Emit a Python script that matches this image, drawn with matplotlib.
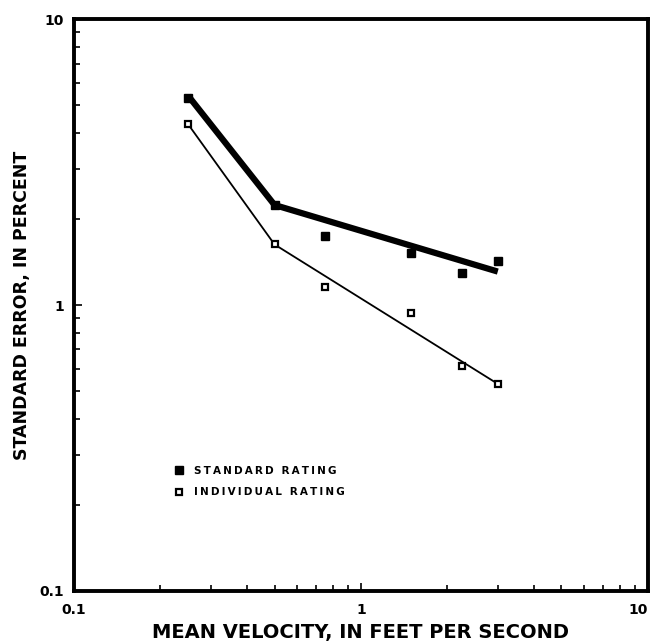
import matplotlib.pyplot as plt
from matplotlib.lines import Line2D
from matplotlib.ticker import LogLocator, FixedFormatter, FixedLocator, NullFormatter

# Mean velocity (ft/s) and standard error (percent)
velocity = [0.25, 0.5, 0.75, 1.5, 2.25, 3.0]
standard_pts = [5.3, 2.24, 1.74, 1.52, 1.30, 1.43]
individual_pts = [4.29, 1.63, 1.16, 0.94, 0.61, 0.53]

# Fitted (broken) lines drawn through the points
fit_v = [0.25, 0.5, 3.0]
standard_fit = [5.4, 2.24, 1.31]
individual_fit = [4.29, 1.63, 0.53]

tick_vals = [0.1, 1, 10]
tick_text = ["0.1", "1", "10"]

INK = "black"
FONT = "DejaVu Sans"


def spaced(s):
    return "\u2009".join(s)


fig = plt.figure(figsize=(6.55, 6.43), dpi=100)
ax = fig.add_axes([0.113, 0.081, 0.876, 0.889])

ax.plot(fit_v, standard_fit, color=INK, lw=4.5, solid_capstyle="butt", zorder=3)
ax.plot(fit_v, individual_fit, color=INK, lw=1.3, zorder=3)
ax.plot(velocity, standard_pts, "s", color=INK, ms=5.5, zorder=4)
ax.plot(velocity, individual_pts, "s", mfc="white", mec=INK, mew=1.6, ms=5,
        zorder=4)

ax.set_xscale("log")
ax.set_yscale("log")
ax.set_xlim(0.1, 10)
ax.set_ylim(0.1, 10)

for axis in (ax.xaxis, ax.yaxis):
    axis.set_major_locator(FixedLocator(tick_vals))
    axis.set_major_formatter(FixedFormatter(tick_text))
    axis.set_minor_locator(LogLocator(base=10, subs=range(2, 10)))
    axis.set_minor_formatter(NullFormatter())

ax.tick_params(which="both", direction="in", color=INK, width=1.2,
               top=False, right=False)
ax.tick_params(which="major", length=6, labelsize=10)
ax.tick_params(axis="x", which="major", pad=9)
ax.tick_params(axis="y", which="major", pad=7)
ax.tick_params(which="minor", length=4)
for lab in ax.get_xticklabels() + ax.get_yticklabels():
    lab.set_fontweight("bold")
    lab.set_family(FONT)
# keep the "10" at the far right inside the figure
ax.get_xticklabels()[-1].set_horizontalalignment("right")

for spine in ax.spines.values():
    spine.set_linewidth(2.8)
    spine.set_color(INK)

ax.set_xlabel("MEAN VELOCITY, IN FEET PER SECOND", fontsize=14,
              fontweight="bold", family=FONT, labelpad=4)
ax.set_ylabel("STANDARD ERROR, IN PERCENT", fontsize=12.5,
              fontweight="bold", family=FONT, labelpad=6)

handles = [
    Line2D([], [], ls="none", marker="s", color=INK, ms=5.5),
    Line2D([], [], ls="none", marker="s", mfc="white", mec=INK, mew=1.6, ms=5),
]
ax.legend(handles, [spaced("STANDARD RATING"), spaced("INDIVIDUAL RATING")],
          loc="upper left", bbox_to_anchor=(0.16, 0.235), frameon=False,
          handlelength=0.8, handletextpad=1.0, labelspacing=1.1,
          prop={"family": FONT, "weight": "bold", "size": 7.5})

fig.savefig("out.png", dpi=100, facecolor="white")
